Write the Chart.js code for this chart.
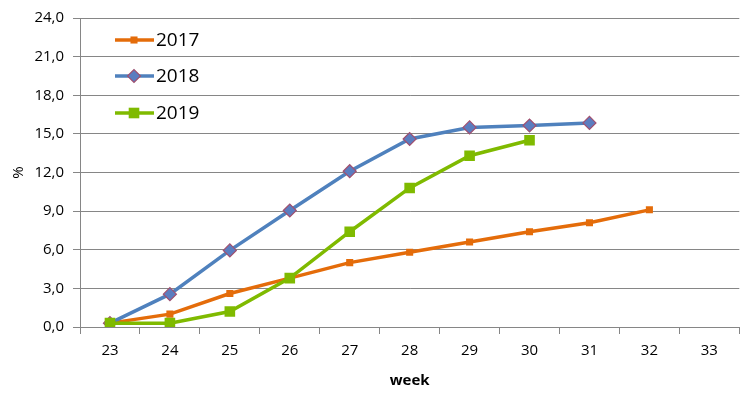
<!DOCTYPE html>
<html><head><meta charset="utf-8">
<script src="https://cdn.jsdelivr.net/npm/chart.js@4/dist/chart.umd.min.js"></script>
<style>html,body{margin:0;padding:0;background:#fff}#w{width:747px;height:394px}</style>
</head><body><div id="w"><canvas id="c"></canvas></div>
<script>
const categories = ['23','24','25','26','27','28','29','30','31','32','33'];
const seriesNames = ['2017','2018','2019'];
const s2017 = [0.3, 1.0, 2.6, 3.8, 5.0, 5.8, 6.6, 7.4, 8.1, 9.1, null];
const s2018 = [0.3, 2.55, 5.95, 9.05, 12.1, 14.6, 15.5, 15.65, 15.85, null, null];
const s2019 = [0.3, 0.3, 1.2, 3.8, 7.4, 10.8, 13.3, 14.5, null, null, null];
const yTicks = [0,3,6,9,12,15,18,21,24];

const FONT = '"Open Sans", "Noto Sans", sans-serif';
const styles = [
  {color:'#E46C0A', pt:'rect', r:5, fill:'#E46C0A', border:'#E46C0A'},
  {color:'#4F81BD', pt:'rectRot', r:6.5, fill:'#5B7DC0', border:'#A05070'},
  {color:'#7FBA00', pt:'rect', r:7.5, fill:'#7FBA00', border:'#7FBA00'}
];
const data = [s2017, s2018, s2019];
const datasets = data.map((d,i)=>({
  label: seriesNames[i], data: d, borderColor: styles[i].color, borderWidth: 3.5,
  pointStyle: styles[i].pt, pointRadius: styles[i].r, pointHoverRadius: styles[i].r,
  pointBackgroundColor: styles[i].fill, pointBorderColor: styles[i].border, pointBorderWidth: i===1?1.2:0,
  tension: 0, spanGaps: false, fill: false, order: 3 - i
}));

const legendPlugin = {
  id:'inLegend',
  afterDraw(chart){
    const ctx = chart.ctx;
    const ys = [40, 76, 113];
    chart.data.datasets.forEach((ds,i)=>{
      const y = ys[i];
      ctx.save();
      ctx.strokeStyle = ds.borderColor; ctx.lineWidth = 3.5;
      ctx.beginPath(); ctx.moveTo(115,y); ctx.lineTo(154,y); ctx.stroke();
      ctx.fillStyle = ds.pointBackgroundColor; ctx.strokeStyle = ds.pointBorderColor; ctx.lineWidth = ds.pointBorderWidth;
      Chart.helpers.drawPoint(ctx, {pointStyle: ds.pointStyle, radius: ds.pointRadius, borderWidth: ds.pointBorderWidth}, 134, y);
      ctx.fillStyle = '#000'; ctx.font = '19px ' + FONT; ctx.textBaseline = 'middle'; ctx.textAlign='left';
      ctx.fillText(ds.label, 156, y+1);
      ctx.restore();
    });
  }
};

new Chart(document.getElementById('c'), {
  type:'line',
  data:{labels: categories, datasets},
  options:{
    responsive:true, maintainAspectRatio:false, animation:false,
    layout:{padding:{top:17, right:7, left:0, bottom:0}},
    plugins:{legend:{display:false}, tooltip:{enabled:false}},
    scales:{
      x:{
        offset:true,
        grid:{offset:true, drawOnChartArea:false, drawTicks:true, tickLength:7, color:'#868686'},
        border:{color:'#868686'},
        ticks:{color:'#000', font:{family:FONT, size:15}, padding:8},
        title:{display:true, text:'week', color:'#000', font:{family:FONT, size:15, weight:'bold'}, padding:{top:4,bottom:4}},
        afterFit(s){ s.height = 67; }
      },
      y:{
        min:0, max:24,
        afterBuildTicks(s){ s.ticks = yTicks.map(v=>({value:v})); },
        grid:{color:'#868686', tickLength:7},
        border:{color:'#868686'},
        ticks:{color:'#000', font:{family:FONT, size:15}, padding:9, callback:v=>v.toFixed(1).replace('.',',')},
        title:{display:true, text:'%', color:'#000', font:{family:FONT, size:15}, padding:{top:10,bottom:4}},
        afterFit(s){ s.width = 80; }
      }
    }
  },
  plugins:[legendPlugin]
});
</script></body></html>
